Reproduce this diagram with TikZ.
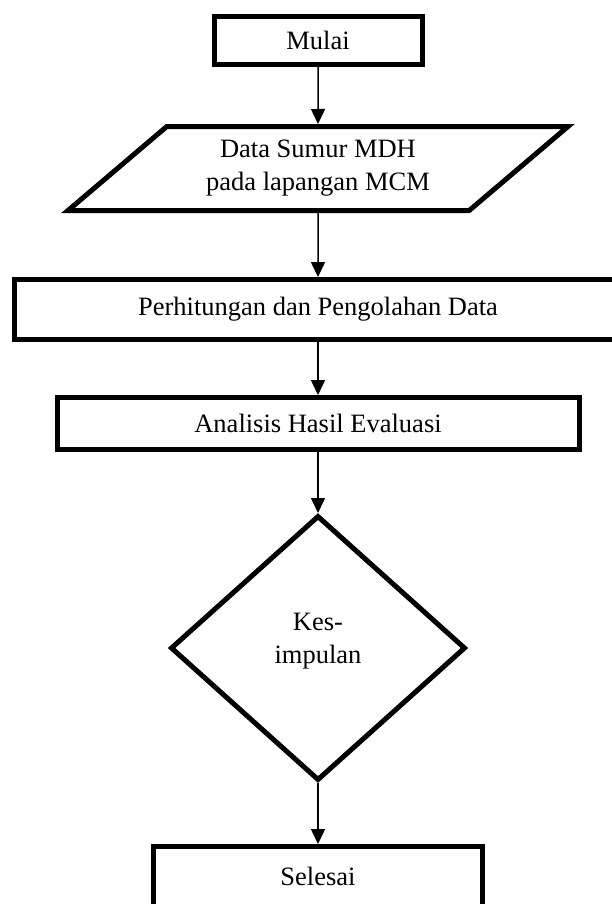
\documentclass[tikz,border=0pt]{standalone}
\usepackage{fontspec}
\setmainfont{Liberation Serif}
\usepackage{tikz}
\usetikzlibrary{positioning, shapes.geometric, arrows.meta}

\begin{document}
\begin{tikzpicture}[x=1pt, y=1pt, draw=black,
		font=\fontsize{26.5pt}{33pt}\selectfont,
		flowbox/.style={draw, rectangle, line width=5pt, align=center},
		flowline/.style={line width=1.5pt, -{Triangle[width=14pt, length=15pt]}}]
		\clip (0,0) rectangle (612,-904);
		%diagram
		\node[flowbox, minimum width=208pt, minimum height=48pt] (mulai) at (318,-40.5) {Mulai};
		\node[draw, trapezium, trapezium left angle=32.5, trapezium right angle=147.5, trapezium stretches body, line width=5pt, align=center, minimum width=500pt, minimum height=84pt, below=57pt of mulai] (data) {Data Sumur MDH\\pada lapangan MCM};
		\node[flowbox, minimum width=607pt, minimum height=60pt, below=64pt of data] (proses) {Perhitungan dan Pengolahan Data};
		\node[flowbox, minimum width=522pt, minimum height=52pt, below=53pt of proses] (analisis) {Analisis Hasil Evaluasi};
		\node[draw, diamond, line width=5pt, align=center, minimum width=295pt, minimum height=265pt, text depth=20pt, below=61pt of analisis] (simpulan) {Kes-\\impulan};
		\node[flowbox, minimum width=329pt, minimum height=60pt, below=61pt of simpulan] (selesai) {Selesai};
		%arrows
		\draw[flowline] (mulai) -- (data);
		\draw[flowline] (data) -- (proses);
		\draw[flowline] (proses) -- (analisis);
		\draw[flowline] (analisis) -- (simpulan);
		\draw[flowline] (simpulan) -- (selesai);
\end{tikzpicture}
\end{document}
